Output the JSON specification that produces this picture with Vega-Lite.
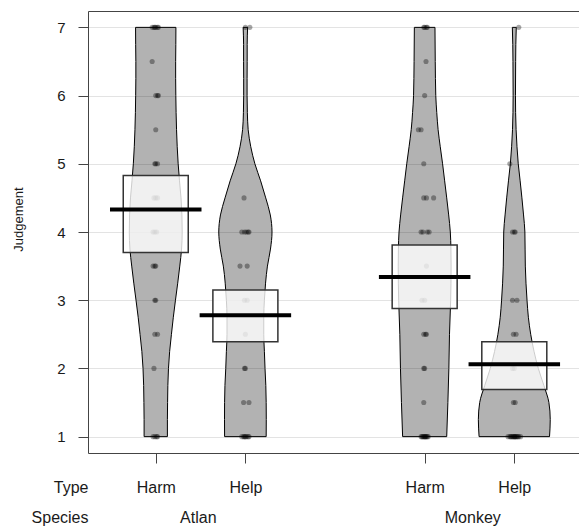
{
  "$schema": "https://vega.github.io/schema/vega-lite/v6.json",
  "width": 491,
  "height": 442,
  "autosize": "none",
  "padding": {"left": 88, "top": 11, "right": 0, "bottom": 74},
  "config": {
    "view": {"stroke": null},
    "font": "Liberation Sans",
    "axis": {"labelColor": "#1a1a1a", "titleColor": "#1a1a1a", "titleFontWeight": "normal", "domainColor": "#444", "tickColor": "#444", "labelFont": "Liberation Sans", "titleFont": "Liberation Sans"}
  },
  "datasets": {
    "violin": [
      {"g": "Atlan Harm", "y": 7, "lo": 0.775, "hi": 1.225},
      {"g": "Atlan Harm", "y": 6.75, "lo": 0.776, "hi": 1.224},
      {"g": "Atlan Harm", "y": 6.5, "lo": 0.778, "hi": 1.222},
      {"g": "Atlan Harm", "y": 6.25, "lo": 0.778, "hi": 1.222},
      {"g": "Atlan Harm", "y": 6, "lo": 0.776, "hi": 1.224},
      {"g": "Atlan Harm", "y": 5.5, "lo": 0.768, "hi": 1.232},
      {"g": "Atlan Harm", "y": 5, "lo": 0.75, "hi": 1.25},
      {"g": "Atlan Harm", "y": 4.75, "lo": 0.735, "hi": 1.265},
      {"g": "Atlan Harm", "y": 4.5, "lo": 0.718, "hi": 1.282},
      {"g": "Atlan Harm", "y": 4.25, "lo": 0.708, "hi": 1.292},
      {"g": "Atlan Harm", "y": 4, "lo": 0.705, "hi": 1.295},
      {"g": "Atlan Harm", "y": 3.75, "lo": 0.712, "hi": 1.288},
      {"g": "Atlan Harm", "y": 3.5, "lo": 0.732, "hi": 1.268},
      {"g": "Atlan Harm", "y": 3.25, "lo": 0.755, "hi": 1.245},
      {"g": "Atlan Harm", "y": 3, "lo": 0.78, "hi": 1.22},
      {"g": "Atlan Harm", "y": 2.75, "lo": 0.804, "hi": 1.196},
      {"g": "Atlan Harm", "y": 2.5, "lo": 0.825, "hi": 1.175},
      {"g": "Atlan Harm", "y": 2.25, "lo": 0.845, "hi": 1.155},
      {"g": "Atlan Harm", "y": 2, "lo": 0.858, "hi": 1.142},
      {"g": "Atlan Harm", "y": 1.75, "lo": 0.865, "hi": 1.135},
      {"g": "Atlan Harm", "y": 1.5, "lo": 0.868, "hi": 1.132},
      {"g": "Atlan Harm", "y": 1.25, "lo": 0.87, "hi": 1.13},
      {"g": "Atlan Harm", "y": 1, "lo": 0.87, "hi": 1.13},
      {"g": "Atlan Help", "y": 7, "lo": 1.975, "hi": 2.025},
      {"g": "Atlan Help", "y": 6.75, "lo": 1.98, "hi": 2.02},
      {"g": "Atlan Help", "y": 6.5, "lo": 1.98, "hi": 2.02},
      {"g": "Atlan Help", "y": 6.25, "lo": 1.981, "hi": 2.019},
      {"g": "Atlan Help", "y": 6, "lo": 1.981, "hi": 2.019},
      {"g": "Atlan Help", "y": 5.75, "lo": 1.978, "hi": 2.022},
      {"g": "Atlan Help", "y": 5.5, "lo": 1.969, "hi": 2.031},
      {"g": "Atlan Help", "y": 5.25, "lo": 1.94, "hi": 2.06},
      {"g": "Atlan Help", "y": 5, "lo": 1.894, "hi": 2.106},
      {"g": "Atlan Help", "y": 4.75, "lo": 1.83, "hi": 2.17},
      {"g": "Atlan Help", "y": 4.5, "lo": 1.773, "hi": 2.227},
      {"g": "Atlan Help", "y": 4.25, "lo": 1.722, "hi": 2.278},
      {"g": "Atlan Help", "y": 4, "lo": 1.703, "hi": 2.297},
      {"g": "Atlan Help", "y": 3.75, "lo": 1.72, "hi": 2.28},
      {"g": "Atlan Help", "y": 3.5, "lo": 1.754, "hi": 2.246},
      {"g": "Atlan Help", "y": 3.25, "lo": 1.775, "hi": 2.225},
      {"g": "Atlan Help", "y": 3, "lo": 1.788, "hi": 2.212},
      {"g": "Atlan Help", "y": 2.75, "lo": 1.795, "hi": 2.205},
      {"g": "Atlan Help", "y": 2.5, "lo": 1.795, "hi": 2.205},
      {"g": "Atlan Help", "y": 2.25, "lo": 1.788, "hi": 2.212},
      {"g": "Atlan Help", "y": 2, "lo": 1.781, "hi": 2.219},
      {"g": "Atlan Help", "y": 1.75, "lo": 1.772, "hi": 2.228},
      {"g": "Atlan Help", "y": 1.5, "lo": 1.768, "hi": 2.232},
      {"g": "Atlan Help", "y": 1.25, "lo": 1.767, "hi": 2.233},
      {"g": "Atlan Help", "y": 1, "lo": 1.768, "hi": 2.232},
      {"g": "Monkey Harm", "y": 7, "lo": 3.885, "hi": 4.115},
      {"g": "Monkey Harm", "y": 6.5, "lo": 3.882, "hi": 4.118},
      {"g": "Monkey Harm", "y": 6, "lo": 3.876, "hi": 4.124},
      {"g": "Monkey Harm", "y": 5.75, "lo": 3.865, "hi": 4.135},
      {"g": "Monkey Harm", "y": 5.5, "lo": 3.85, "hi": 4.15},
      {"g": "Monkey Harm", "y": 5.25, "lo": 3.826, "hi": 4.174},
      {"g": "Monkey Harm", "y": 5, "lo": 3.8, "hi": 4.2},
      {"g": "Monkey Harm", "y": 4.75, "lo": 3.777, "hi": 4.223},
      {"g": "Monkey Harm", "y": 4.5, "lo": 3.754, "hi": 4.246},
      {"g": "Monkey Harm", "y": 4.25, "lo": 3.732, "hi": 4.268},
      {"g": "Monkey Harm", "y": 4, "lo": 3.714, "hi": 4.286},
      {"g": "Monkey Harm", "y": 3.75, "lo": 3.707, "hi": 4.293},
      {"g": "Monkey Harm", "y": 3.5, "lo": 3.705, "hi": 4.295},
      {"g": "Monkey Harm", "y": 3, "lo": 3.71, "hi": 4.29},
      {"g": "Monkey Harm", "y": 2.5, "lo": 3.723, "hi": 4.277},
      {"g": "Monkey Harm", "y": 2, "lo": 3.73, "hi": 4.27},
      {"g": "Monkey Harm", "y": 1.5, "lo": 3.741, "hi": 4.259},
      {"g": "Monkey Harm", "y": 1, "lo": 3.754, "hi": 4.246},
      {"g": "Monkey Help", "y": 7, "lo": 4.978, "hi": 5.022},
      {"g": "Monkey Help", "y": 6.75, "lo": 4.983, "hi": 5.017},
      {"g": "Monkey Help", "y": 6.5, "lo": 4.985, "hi": 5.015},
      {"g": "Monkey Help", "y": 6, "lo": 4.987, "hi": 5.013},
      {"g": "Monkey Help", "y": 5.5, "lo": 4.98, "hi": 5.02},
      {"g": "Monkey Help", "y": 5.25, "lo": 4.97, "hi": 5.03},
      {"g": "Monkey Help", "y": 5, "lo": 4.956, "hi": 5.044},
      {"g": "Monkey Help", "y": 4.75, "lo": 4.935, "hi": 5.065},
      {"g": "Monkey Help", "y": 4.5, "lo": 4.915, "hi": 5.085},
      {"g": "Monkey Help", "y": 4.25, "lo": 4.897, "hi": 5.103},
      {"g": "Monkey Help", "y": 4, "lo": 4.882, "hi": 5.118},
      {"g": "Monkey Help", "y": 3.5, "lo": 4.877, "hi": 5.123},
      {"g": "Monkey Help", "y": 3, "lo": 4.858, "hi": 5.142},
      {"g": "Monkey Help", "y": 2.75, "lo": 4.843, "hi": 5.157},
      {"g": "Monkey Help", "y": 2.5, "lo": 4.817, "hi": 5.183},
      {"g": "Monkey Help", "y": 2.25, "lo": 4.78, "hi": 5.22},
      {"g": "Monkey Help", "y": 2, "lo": 4.732, "hi": 5.268},
      {"g": "Monkey Help", "y": 1.75, "lo": 4.67, "hi": 5.33},
      {"g": "Monkey Help", "y": 1.5, "lo": 4.614, "hi": 5.386},
      {"g": "Monkey Help", "y": 1.25, "lo": 4.599, "hi": 5.401},
      {"g": "Monkey Help", "y": 1, "lo": 4.607, "hi": 5.393}
    ],
    "points": [
      {"g": "Atlan Harm", "j": 7, "x": 0.96}, {"g": "Atlan Harm", "j": 7, "x": 0.98}, {"g": "Atlan Harm", "j": 7, "x": 1.0}, {"g": "Atlan Harm", "j": 7, "x": 1.02}, {"g": "Atlan Harm", "j": 7, "x": 1.03}, {"g": "Atlan Harm", "j": 7, "x": 0.99},
      {"g": "Atlan Harm", "j": 6.5, "x": 0.96},
      {"g": "Atlan Harm", "j": 6, "x": 1.0}, {"g": "Atlan Harm", "j": 6, "x": 1.02}, {"g": "Atlan Harm", "j": 6, "x": 1.03},
      {"g": "Atlan Harm", "j": 5.5, "x": 1.0},
      {"g": "Atlan Harm", "j": 5, "x": 0.99}, {"g": "Atlan Harm", "j": 5, "x": 1.0}, {"g": "Atlan Harm", "j": 5, "x": 1.02},
      {"g": "Atlan Harm", "j": 4.5, "x": 0.98}, {"g": "Atlan Harm", "j": 4.5, "x": 1.0}, {"g": "Atlan Harm", "j": 4.5, "x": 1.02},
      {"g": "Atlan Harm", "j": 4, "x": 0.97}, {"g": "Atlan Harm", "j": 4, "x": 0.99}, {"g": "Atlan Harm", "j": 4, "x": 1.01},
      {"g": "Atlan Harm", "j": 3.5, "x": 0.97}, {"g": "Atlan Harm", "j": 3.5, "x": 0.99}, {"g": "Atlan Harm", "j": 3.5, "x": 1.0},
      {"g": "Atlan Harm", "j": 3, "x": 0.99}, {"g": "Atlan Harm", "j": 3, "x": 1.0},
      {"g": "Atlan Harm", "j": 2.5, "x": 0.99}, {"g": "Atlan Harm", "j": 2.5, "x": 1.02},
      {"g": "Atlan Harm", "j": 2, "x": 0.98},
      {"g": "Atlan Harm", "j": 1, "x": 0.97}, {"g": "Atlan Harm", "j": 1, "x": 0.99}, {"g": "Atlan Harm", "j": 1, "x": 1.01}, {"g": "Atlan Harm", "j": 1, "x": 1.02},
      {"g": "Atlan Help", "j": 7, "x": 2.0}, {"g": "Atlan Help", "j": 7, "x": 2.05},
      {"g": "Atlan Help", "j": 4.5, "x": 1.985},
      {"g": "Atlan Help", "j": 4, "x": 1.96}, {"g": "Atlan Help", "j": 4, "x": 1.99}, {"g": "Atlan Help", "j": 4, "x": 2.01}, {"g": "Atlan Help", "j": 4, "x": 2.03}, {"g": "Atlan Help", "j": 4, "x": 2.04},
      {"g": "Atlan Help", "j": 3.5, "x": 1.94}, {"g": "Atlan Help", "j": 3.5, "x": 2.02},
      {"g": "Atlan Help", "j": 3, "x": 1.99}, {"g": "Atlan Help", "j": 3, "x": 2.02},
      {"g": "Atlan Help", "j": 2.5, "x": 2.0},
      {"g": "Atlan Help", "j": 2, "x": 1.99}, {"g": "Atlan Help", "j": 2, "x": 2.0},
      {"g": "Atlan Help", "j": 1.5, "x": 1.98}, {"g": "Atlan Help", "j": 1.5, "x": 2.04},
      {"g": "Atlan Help", "j": 1, "x": 1.96}, {"g": "Atlan Help", "j": 1, "x": 1.98}, {"g": "Atlan Help", "j": 1, "x": 1.99}, {"g": "Atlan Help", "j": 1, "x": 2.0}, {"g": "Atlan Help", "j": 1, "x": 2.01}, {"g": "Atlan Help", "j": 1, "x": 2.03}, {"g": "Atlan Help", "j": 1, "x": 2.04},
      {"g": "Monkey Harm", "j": 7, "x": 3.99}, {"g": "Monkey Harm", "j": 7, "x": 4.0}, {"g": "Monkey Harm", "j": 7, "x": 4.02}, {"g": "Monkey Harm", "j": 7, "x": 4.03},
      {"g": "Monkey Harm", "j": 6.5, "x": 4.015},
      {"g": "Monkey Harm", "j": 6, "x": 4.0},
      {"g": "Monkey Harm", "j": 5.5, "x": 3.93}, {"g": "Monkey Harm", "j": 5.5, "x": 3.96},
      {"g": "Monkey Harm", "j": 5, "x": 3.99},
      {"g": "Monkey Harm", "j": 4.5, "x": 3.99}, {"g": "Monkey Harm", "j": 4.5, "x": 4.02}, {"g": "Monkey Harm", "j": 4.5, "x": 4.1},
      {"g": "Monkey Harm", "j": 4, "x": 3.96}, {"g": "Monkey Harm", "j": 4, "x": 3.98}, {"g": "Monkey Harm", "j": 4, "x": 4.03}, {"g": "Monkey Harm", "j": 4, "x": 4.05},
      {"g": "Monkey Harm", "j": 3.5, "x": 4.02},
      {"g": "Monkey Harm", "j": 3, "x": 3.97}, {"g": "Monkey Harm", "j": 3, "x": 4.0},
      {"g": "Monkey Harm", "j": 2.5, "x": 3.99}, {"g": "Monkey Harm", "j": 2.5, "x": 4.01}, {"g": "Monkey Harm", "j": 2.5, "x": 4.02},
      {"g": "Monkey Harm", "j": 2, "x": 3.99}, {"g": "Monkey Harm", "j": 2, "x": 4.0},
      {"g": "Monkey Harm", "j": 1.5, "x": 3.99},
      {"g": "Monkey Harm", "j": 1, "x": 3.96}, {"g": "Monkey Harm", "j": 1, "x": 3.97}, {"g": "Monkey Harm", "j": 1, "x": 3.98}, {"g": "Monkey Harm", "j": 1, "x": 3.99}, {"g": "Monkey Harm", "j": 1, "x": 4.0}, {"g": "Monkey Harm", "j": 1, "x": 4.005}, {"g": "Monkey Harm", "j": 1, "x": 4.01}, {"g": "Monkey Harm", "j": 1, "x": 4.02}, {"g": "Monkey Harm", "j": 1, "x": 4.03}, {"g": "Monkey Harm", "j": 1, "x": 4.04},
      {"g": "Monkey Help", "j": 7, "x": 5.05},
      {"g": "Monkey Help", "j": 5, "x": 4.95},
      {"g": "Monkey Help", "j": 4, "x": 4.98}, {"g": "Monkey Help", "j": 4, "x": 5.0}, {"g": "Monkey Help", "j": 4, "x": 5.01},
      {"g": "Monkey Help", "j": 3, "x": 4.98}, {"g": "Monkey Help", "j": 3, "x": 5.03},
      {"g": "Monkey Help", "j": 2.5, "x": 4.99}, {"g": "Monkey Help", "j": 2.5, "x": 5.02},
      {"g": "Monkey Help", "j": 2, "x": 4.98}, {"g": "Monkey Help", "j": 2, "x": 5.0},
      {"g": "Monkey Help", "j": 1.5, "x": 4.99}, {"g": "Monkey Help", "j": 1.5, "x": 5.01},
      {"g": "Monkey Help", "j": 1, "x": 4.93}, {"g": "Monkey Help", "j": 1, "x": 4.95}, {"g": "Monkey Help", "j": 1, "x": 4.96}, {"g": "Monkey Help", "j": 1, "x": 4.97}, {"g": "Monkey Help", "j": 1, "x": 4.98}, {"g": "Monkey Help", "j": 1, "x": 4.99}, {"g": "Monkey Help", "j": 1, "x": 5.0}, {"g": "Monkey Help", "j": 1, "x": 5.005}, {"g": "Monkey Help", "j": 1, "x": 5.01}, {"g": "Monkey Help", "j": 1, "x": 5.02}, {"g": "Monkey Help", "j": 1, "x": 5.03}, {"g": "Monkey Help", "j": 1, "x": 5.04}, {"g": "Monkey Help", "j": 1, "x": 5.05}, {"g": "Monkey Help", "j": 1, "x": 5.07}
    ],
    "summary": [
      {"g": "Atlan Harm", "c": 1, "mean": 4.33, "lo": 3.7, "hi": 4.83},
      {"g": "Atlan Help", "c": 2, "mean": 2.78, "lo": 2.39, "hi": 3.15},
      {"g": "Monkey Harm", "c": 4, "mean": 3.34, "lo": 2.88, "hi": 3.81},
      {"g": "Monkey Help", "c": 5, "mean": 2.06, "lo": 1.69, "hi": 2.39}
    ],
    "species": [
      {"sp": "Atlan", "c": 1.5},
      {"sp": "Monkey", "c": 4.5}
    ]
  },
  "layer": [
    {
      "layer": [
        {
          "data": {"name": "violin"},
          "mark": {"type": "area", "orient": "horizontal", "interpolate": "monotone", "fill": "black", "fillOpacity": 0.3, "stroke": "black", "strokeWidth": 1},
          "encoding": {
            "y": {"field": "y", "type": "quantitative", "title": "Judgement",
              "scale": {"domain": [0.76, 7.24], "nice": false, "zero": false},
              "axis": {"values": [1, 2, 3, 4, 5, 6, 7], "format": "d", "grid": true, "gridColor": "#e3e3e3", "gridWidth": 1, "tickSize": 10, "labelPadding": 13, "labelFontSize": 15, "titleFontSize": 13, "titleX": -66, "titleY": 208, "titleBaseline": "alphabetic", "titleAlign": "center"}},
            "x": {"field": "lo", "type": "quantitative", "title": "Type",
              "scale": {"domain": [0.3, 5.666], "nice": false, "zero": false},
              "axis": {"values": [1, 2, 4, 5], "labelExpr": "datum.value == 1 || datum.value == 4 ? 'Harm' : 'Help'", "grid": false, "tickSize": 10, "labelPadding": 29, "labelBaseline": "alphabetic", "labelFontSize": 16, "titleFontSize": 16, "titleX": 0, "titleY": 39, "titleAlign": "right", "titleBaseline": "alphabetic", "titleAnchor": "start"}},
            "x2": {"field": "hi"},
            "detail": {"field": "g", "type": "nominal"}
          }
        },
        {
          "data": {"name": "points"},
          "mark": {"type": "circle", "size": 26, "color": "black", "opacity": 0.35},
          "encoding": {
            "y": {"field": "j", "type": "quantitative", "title": "Judgement"},
            "x": {"field": "x", "type": "quantitative", "title": "Type"}
          }
        },
        {
          "data": {"name": "summary"},
          "mark": {"type": "bar", "width": 65, "fill": "white", "fillOpacity": 0.8, "stroke": "#333", "strokeWidth": 1.5},
          "encoding": {
            "x": {"field": "c", "type": "quantitative", "title": "Type"},
            "y": {"field": "lo", "type": "quantitative", "title": "Judgement"},
            "y2": {"field": "hi"}
          }
        },
        {
          "data": {"name": "summary"},
          "mark": {"type": "tick", "orient": "horizontal", "size": 91.5, "thickness": 4, "color": "black", "opacity": 1},
          "encoding": {
            "x": {"field": "c", "type": "quantitative", "title": "Type"},
            "y": {"field": "mean", "type": "quantitative", "title": "Judgement"}
          }
        }
      ]
    },
    {
      "data": {"name": "species"},
      "mark": {"type": "point", "opacity": 0},
      "encoding": {
        "x": {"field": "c", "type": "quantitative", "title": "Species",
          "scale": {"domain": [0.3, 5.666], "nice": false, "zero": false},
          "axis": {"orient": "bottom", "values": [1.5, 4.5], "labelExpr": "datum.value < 3 ? 'Atlan' : 'Monkey'", "ticks": false, "tickSize": 0, "domain": false, "grid": false, "labelPadding": 69, "labelBaseline": "alphabetic", "labelFontSize": 16, "titleFontSize": 16, "titleX": 0, "titleY": 69, "titleAlign": "right", "titleBaseline": "alphabetic", "titleAnchor": "start"}}
      }
    },
    {
      "data": {"name": "species"},
      "mark": {"type": "point", "opacity": 0},
      "encoding": {
        "x": {"field": "c", "type": "quantitative",
          "scale": {"domain": [0.3, 5.666], "nice": false, "zero": false},
          "axis": {"orient": "top", "labels": false, "ticks": false, "grid": false, "domain": true, "title": null}}
      }
    }
  ],
  "resolve": {"scale": {"x": "independent"}, "axis": {"x": "independent"}}
}
